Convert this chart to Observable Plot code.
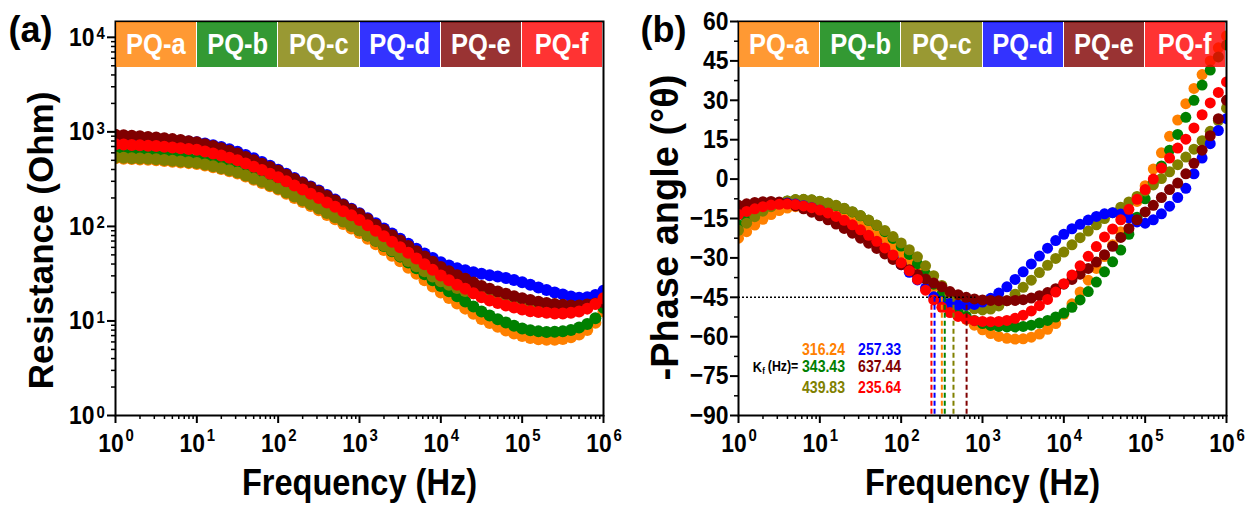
<!DOCTYPE html>
<html><head><meta charset="utf-8">
<script src="https://cdn.jsdelivr.net/npm/d3@7"></script>
<script src="https://cdn.jsdelivr.net/npm/@observablehq/plot@0.6"></script>
<style>
body{margin:0;background:#fff;}
#wrap{position:relative;width:1247px;height:505px;overflow:hidden;font-family:"Liberation Sans",Arial,sans-serif;}
.panel{position:absolute;top:0;}
.legend{position:absolute;display:flex;}
.legend div{flex:1;display:flex;align-items:center;justify-content:center;color:#fff;font-weight:bold;font-size:29px;box-sizing:border-box;}
.legend span{display:inline-block;transform:scaleX(0.88);}
</style></head><body><div id="wrap"><div id="pa" class="panel" style="left:0"></div><div id="pb" class="panel" style="left:623px"></div></div>
<script>
// ---------- data ----------
const freq = [1,1.259,1.585,1.995,2.512,3.162,3.981,5.012,6.31,7.943,
  10,12.59,15.85,19.95,25.12,31.62,39.81,50.12,63.1,79.43,
  100,125.9,158.5,199.5,251.2,316.2,398.1,501.2,631,794.3,
  1000,1259,1585,1995,2512,3162,3981,5012,6310,7943,
  10000,12589,15849,19953,25119,31623,39811,50119,63096,79433,
  100000,125893,158489,199526,251189,316228,398107,501187,630957,794328,1000000];
const series = ["PQ-a","PQ-b","PQ-c","PQ-d","PQ-e","PQ-f"];
const colors = ["#FF8000","#008000","#808000","#0000FF","#800000","#FF0000"];

// Resistance (Ohm)
const resA = [525,520,515,511,506,501,493,484,475,467,457,441,423,404,384,363,337,312,288,266,245,222,200,181,164,148,132,119,106,95.1,85.1,74.1,64.6,56.2,49.0,42.7,36.6,31.5,27.0,23.2,20.0,17.5,15.3,13.5,11.9,10.5,9.51,8.67,7.94,7.38,6.92,6.61,6.40,6.31,6.34,6.46,6.73,7.21,8.04,9.55,12.6];
const resB = [617,608,600,592,583,575,564,552,540,526,513,492,470,447,423,398,368,339,312,286,263,238,215,194,175,158,142,127,114,102,91.2,80.2,70.5,61.9,54.5,47.9,41.5,36.0,31.2,27.0,23.4,20.6,18.2,16.1,14.2,12.6,11.4,10.4,9.64,8.91,8.32,7.98,7.76,7.66,7.67,7.76,8.04,8.51,9.29,10.7,13.8];
const resC = [537,532,527,522,518,513,505,495,486,478,468,451,433,413,393,372,345,320,296,273,251,228,207,188,171,155,139,125,113,101,91.2,80.5,71.1,62.8,55.5,49.0,43.1,38.0,33.6,29.6,26.3,24.1,22.3,20.8,19.6,18.6,17.8,17.1,16.4,15.7,15.1,14.7,14.3,14.0,13.9,13.8,13.9,14.1,14.6,15.5,16.6];
const resD = [851,847,843,839,836,832,824,815,804,791,776,752,724,692,655,617,570,525,481,439,398,360,325,294,265,240,215,192,172,154,138,122,108,95.1,83.9,74.1,65.5,58.1,51.8,46.3,41.7,38.5,36.1,34.3,32.8,31.6,30.5,29.5,28.4,27.1,25.7,24.2,22.6,21.3,20.0,19.1,18.1,17.6,17.8,18.8,20.9];
const resE = [933,923,912,897,885,871,855,838,818,798,776,741,708,670,631,589,543,501,461,424,389,352,318,287,259,234,210,188,168,151,135,119,104,91.6,80.5,70.8,62.2,54.7,48.1,42.3,37.2,33.6,30.5,27.9,25.5,23.4,21.9,20.5,19.4,18.3,17.4,16.7,16.0,15.5,15.1,14.8,14.6,14.6,14.9,15.3,15.8];
const resF = [741,735,728,721,714,708,697,684,671,659,646,619,592,562,532,501,463,428,394,361,331,300,271,245,221,200,179,161,145,131,117,103,89.9,78.7,68.9,60.3,52.5,45.7,39.8,34.7,30.2,26.9,24.2,21.9,19.6,17.8,16.5,15.5,14.6,13.9,13.2,12.7,12.4,12.2,12.0,12.0,12.2,12.6,13.5,15.1,17.4];

// -Phase angle (deg)
const phA = [-22.5,-20,-17.5,-15.3,-13.5,-12,-11,-10.5,-10.4,-10.7,-11.3,-12.2,-13.3,-14.6,-16,-17.6,-19.4,-21.4,-23.6,-26,-28.6,-31.4,-34.4,-37.6,-41,-44.5,-47.8,-50.8,-53.4,-55.6,-57.4,-58.8,-59.9,-60.6,-60.9,-60.8,-60.2,-59,-57.2,-55,-51.5,-47.5,-43,-38.5,-34,-29.5,-25,-20,-14.5,-8.5,-2.5,3.8,10,16.3,22.5,28.7,34.5,39.8,45,50,54.5];
const phB = [-17.5,-15.3,-13.3,-11.6,-10.2,-9.1,-8.3,-7.9,-7.8,-8,-8.5,-9.2,-10.1,-11.2,-12.5,-14,-15.7,-17.6,-20,-22.6,-25.5,-28.7,-32.2,-36,-40,-43.8,-47.2,-50,-52.2,-53.8,-55,-55.7,-56.1,-56.3,-56.3,-56.1,-55.6,-54.8,-53.8,-52.5,-51,-48.8,-46,-42.8,-39.2,-35.3,-31.5,-27,-21,-14.5,-7.5,-1.3,5,11,17,23.5,30,35.8,41.5,46.5,51];
const phC = [-19.5,-16.8,-14.3,-12.2,-10.5,-9.2,-8.3,-7.8,-7.7,-7.9,-8.4,-9.1,-10,-11.1,-12.4,-13.9,-15.6,-17.5,-19.6,-21.9,-24.3,-26.9,-29.6,-33,-36.8,-40.5,-43.8,-46.3,-48.2,-49.4,-49.8,-49.5,-48.3,-46.3,-43.8,-41.2,-38.5,-35.6,-32.8,-30.2,-27.8,-25,-22.3,-19.8,-17.4,-15,-12.8,-10.7,-8.7,-6.6,-4.5,-2.2,0.2,2.8,5.5,8.4,11.4,14.6,18.2,22.3,27];
const phD = [-11.5,-10.6,-9.9,-9.4,-9.1,-9.0,-9.1,-9.5,-10.1,-10.9,-11.9,-13.1,-14.5,-16.1,-17.9,-19.9,-22.1,-24.5,-27.1,-29.8,-32.6,-35.5,-38.4,-41.5,-44.8,-46.5,-47.4,-47.9,-48,-47.7,-46.8,-45.4,-43.4,-41,-38.2,-35.3,-32.3,-29.3,-26.3,-23.4,-21,-18.9,-17.2,-15.6,-14.2,-13.2,-12.8,-13.3,-14.8,-16.3,-16.8,-15.5,-13.2,-10.3,-7,-3.5,2,8,13.5,18.5,23];
const phE = [-10,-9.4,-8.9,-8.6,-8.5,-8.7,-9.3,-10.2,-11.3,-12.6,-14,-15.5,-17.1,-18.8,-20.6,-22.5,-24.4,-26.4,-28.5,-30.6,-32.6,-34.5,-36.3,-38,-39.6,-41,-42.8,-44,-45,-45.6,-46,-46.2,-46.3,-46.3,-46.2,-45.9,-45.3,-44.4,-43.2,-41.7,-40,-38.2,-36.2,-34,-31.6,-28.8,-25.6,-22.2,-18.8,-15.5,-12.5,-10,-7,-4,-1.5,2,6,11,16.5,23,30];
const phF = [-13.5,-12.3,-11.3,-10.5,-9.9,-9.6,-9.5,-9.7,-10.2,-10.9,-11.8,-12.9,-14.2,-15.7,-17.4,-19.3,-21.4,-23.7,-26.2,-28.9,-31.8,-34.9,-38.2,-42.3,-46,-48.8,-50.8,-52.3,-53.3,-53.9,-54.2,-54.3,-54.2,-53.8,-53,-51.8,-50.2,-48.2,-45.8,-43,-39.8,-36.5,-33,-29.4,-25.7,-22,-19,-15.5,-11.5,-7.7,-4,0,4.2,8,11.8,15.2,19.5,24.5,29,33,37];

// K_f (Hz) at -45 deg
const kfHz = [316.24, 343.43, 439.83, 257.33, 637.44, 235.64];

// ticks
const xTicks = [1,10,100,1000,10000,100000,1000000];
const resTicks = [1,10,100,1000,10000];
const phaseTicks = [-90,-75,-60,-45,-30,-15,0,15,30,45,60];
const phaseMinor = [-82.5,-67.5,-52.5,-37.5,-22.5,-7.5,7.5,22.5,37.5,52.5];
const mult = [2,3,4,5,6,7,8,9];
const xMinor = [1,10,100,1000,10000,100000].flatMap(d => mult.map(m => m*d));
const resMinor = [1,10,100,1000].flatMap(d => mult.map(m => m*d));

// ---------- build tables ----------
const resAll = [resA,resB,resC,resD,resE,resF];
const phAll = [phA,phB,phC,phD,phE,phF];
const resRows = series.flatMap((s,k) => freq.map((f,i) => ({series: s, f, v: resAll[k][i]})));
const phRows = series.flatMap((s,k) => freq.map((f,i) => ({series: s, f, v: phAll[k][i]})));
const kfRows = series.map((s,i) => ({series: s, kf: kfHz[i], label: kfHz[i].toFixed(2)}));
// annotation layout (data space of panel b)
const kfCol = [20.4, 20.4, 20.4, 29.5, 29.5, 29.5];
const kfRow = [-65, -71.5, -79.5, -65, -71.5, -79.5];
const kfAnchor = ["end","end","end","start","start","start"];
kfRows.forEach((d,i) => { d.x = kfCol[i]; d.y = kfRow[i]; d.anchor = kfAnchor[i]; });
const hLineEnd = 830;

const FONT = '"Liberation Sans", Arial, sans-serif';
const SQ = 0.88;
const common = {height: 505, marginTop: 21, marginBottom: 90, marginLeft: 115,
  style: {fontFamily: FONT, fontWeight: "bold", overflow: "visible", background: "none", color: "black"},
  color: {domain: series, range: colors}};

const expo = d => String(Math.round(Math.log10(d)));
const fmtPh = d => d < 0 ? "\u2212" + (-d) : String(d);

const plotA = Plot.plot({
  ...common, width: 623, marginRight: 20,
  x: {type: "log", domain: [1, 1e6], label: null},
  y: {type: "log", domain: [1, 14700], label: null},
  marks: [
    Plot.dot(resRows, {x: "f", y: "v", fill: "series", r: 6, clip: true}),
    Plot.axisX(xMinor, {tickSize: 4, tickFormat: () => "", strokeWidth: 1.5, label: null}),
    Plot.axisX(xTicks, {tickSize: 8, tickFormat: () => "", strokeWidth: 2, label: null}),
    Plot.axisY(resMinor, {tickSize: 4, tickFormat: () => "", strokeWidth: 1.5, label: null}),
    Plot.axisY(resTicks, {tickSize: 8, tickFormat: () => "", strokeWidth: 2, label: null}),
    Plot.text(xTicks, {x: d => d, frameAnchor: "bottom", text: () => "10", dx: -4.5, dy: 18, textAnchor: "middle", lineAnchor: "top", fontSize: 26}),
    Plot.text(xTicks, {x: d => d, frameAnchor: "bottom", text: expo, dx: 10, dy: 13, textAnchor: "start", lineAnchor: "top", fontSize: 17}),
    Plot.text(resTicks, {y: d => d, frameAnchor: "left", text: () => "10", dx: -21, textAnchor: "end", lineAnchor: "middle", fontSize: 26}),
    Plot.text(resTicks, {y: d => d, frameAnchor: "left", text: expo, dx: -19, dy: -10, textAnchor: "start", lineAnchor: "top", fontSize: 17}),
    Plot.frame({stroke: "black", strokeWidth: 2}),
    Plot.text([0], {frameAnchor: "bottom", text: () => "Frequency (Hz)", dy: 68, textAnchor: "middle", lineAnchor: "middle", fontSize: 37}),
    Plot.text([0], {frameAnchor: "left", text: () => "Resistance (Ohm)", dx: -74, dy: 22, rotate: -90, textAnchor: "middle", lineAnchor: "middle", fontSize: 35}),
    Plot.text([0], {frameAnchor: "top-left", text: () => "(a)", dx: -107, dy: -5, textAnchor: "start", lineAnchor: "top", fontSize: 36, className: "nosq"})
  ]
});

const plotB = Plot.plot({
  ...common, width: 624, marginRight: 21,
  x: {type: "log", domain: [1, 1e6], label: null},
  y: {domain: [-90, 60], label: null},
  marks: [
    Plot.dot(phRows, {x: "f", y: "v", fill: "series", r: 5.5, clip: true}),
    Plot.ruleY([-45], {x1: 1, x2: hLineEnd, stroke: "black", strokeWidth: 1.5, strokeDasharray: "2,2"}),
    Plot.ruleX(kfRows, {x: "kf", y1: -45, y2: -90, stroke: "series", strokeWidth: 2, strokeDasharray: "5,3"}),
    Plot.axisX(xMinor, {tickSize: 4, tickFormat: () => "", strokeWidth: 1.5, label: null}),
    Plot.axisX(xTicks, {tickSize: 8, tickFormat: () => "", strokeWidth: 2, label: null}),
    Plot.axisY(phaseMinor, {tickSize: 4, tickFormat: () => "", strokeWidth: 1.5, label: null}),
    Plot.axisY(phaseTicks, {tickSize: 8, tickFormat: () => "", strokeWidth: 2, label: null}),
    Plot.text(xTicks, {x: d => d, frameAnchor: "bottom", text: () => "10", dx: -4.5, dy: 18, textAnchor: "middle", lineAnchor: "top", fontSize: 26}),
    Plot.text(xTicks, {x: d => d, frameAnchor: "bottom", text: expo, dx: 10, dy: 13, textAnchor: "start", lineAnchor: "top", fontSize: 17}),
    Plot.text(phaseTicks, {y: d => d, frameAnchor: "left", text: fmtPh, dx: -10, textAnchor: "end", lineAnchor: "middle", fontSize: 26}),
    Plot.text(kfRows.filter(d => d.anchor === "end"), {x: "x", y: "y", text: "label", fill: "series", textAnchor: "end", lineAnchor: "middle", fontSize: 16}),
    Plot.text(kfRows.filter(d => d.anchor === "start"), {x: "x", y: "y", text: "label", fill: "series", textAnchor: "start", lineAnchor: "middle", fontSize: 16}),
    Plot.text([{x: 1.5, y: -71.5}], {x: "x", y: "y", text: () => "K", textAnchor: "start", lineAnchor: "middle", fontSize: 14.5}),
    Plot.text([{x: 1.5, y: -71.5}], {x: "x", y: "y", text: () => "f", dx: 9.5, dy: 4, textAnchor: "start", lineAnchor: "middle", fontSize: 9}),
    Plot.text([{x: 1.5, y: -71.5}], {x: "x", y: "y", text: () => "(Hz)=", dx: 15, textAnchor: "start", lineAnchor: "middle", fontSize: 14}),
    Plot.frame({stroke: "black", strokeWidth: 2}),
    Plot.text([0], {frameAnchor: "bottom", text: () => "Frequency (Hz)", dy: 68, textAnchor: "middle", lineAnchor: "middle", fontSize: 37}),
    Plot.text([0], {frameAnchor: "left", text: () => "-Phase angle (\u00B0\u03B8)", dx: -73, dy: 9, rotate: -90, textAnchor: "middle", lineAnchor: "middle", fontSize: 38}),
    Plot.text([0], {frameAnchor: "top-left", text: () => "(b)", dx: -98, dy: -5, textAnchor: "start", lineAnchor: "top", fontSize: 36, className: "nosq"})
  ]
});

document.getElementById("pa").appendChild(plotA);
document.getElementById("pb").appendChild(plotB);

// horizontally condense glyphs (the reference's lettering is narrow)
function squeeze(svg, s) {
  svg.querySelectorAll("text").forEach(t => {
    if ((t.getAttribute("transform") || "").includes("rotate")) return;
    if (t.closest(".nosq")) return;
    if (!t.textContent) return;
    const L = t.getComputedTextLength();
    if (L > 0) {
      t.setAttribute("textLength", (L * s).toFixed(2));
      t.setAttribute("lengthAdjust", "spacingAndGlyphs");
    }
  });
}
squeeze(plotA, SQ); squeeze(plotB, SQ);

function hexA(hex, a) {
  const n = parseInt(hex.slice(1), 16);
  return `rgba(${n>>16},${(n>>8)&255},${n&255},${a})`;
}
function legend(left) {
  const div = document.createElement("div");
  div.className = "legend";
  Object.assign(div.style, {left: left + "px", top: "22px", width: "486px", height: "45px"});
  series.forEach((s, i) => {
    const c = document.createElement("div");
    c.style.background = hexA(colors[i], 0.8);
    if (i < series.length - 1) c.style.borderRight = "1px solid #fff";
    const sp = document.createElement("span"); sp.textContent = s;
    c.appendChild(sp); div.appendChild(c);
  });
  document.getElementById("wrap").appendChild(div);
}
legend(116);
legend(623 + 116);
</script></body></html>
